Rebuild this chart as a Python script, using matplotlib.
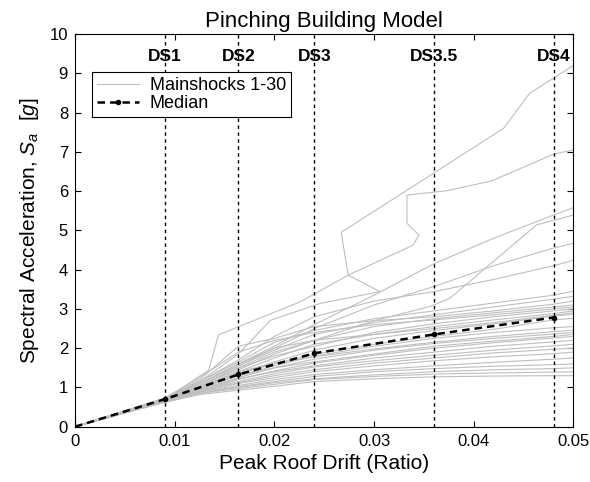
import numpy as np
import matplotlib
matplotlib.use("Agg")
import matplotlib.pyplot as plt

plt.rcParams['font.family'] = ['Liberation Sans', 'DejaVu Sans']
plt.rcParams['mathtext.fontset'] = 'custom'
plt.rcParams['mathtext.rm'] = 'Liberation Sans'
plt.rcParams['mathtext.it'] = 'Liberation Sans:italic'

# damage state drift limits
ds_names = ['DS1', 'DS2', 'DS3', 'DS3.5', 'DS4']
ds_drift = [0.009, 0.0164, 0.024, 0.036, 0.048]

# median Sa at each damage state (origin first)
median_drift = [0.0] + ds_drift
median_sa = [0.0, 0.70, 1.33, 1.87, 2.35, 2.78]

# common drift grid for most of the mainshock curves
grid = [0, 0.009, 0.0125, 0.0164, 0.020, 0.024, 0.030, 0.036, 0.042, 0.048, 0.050]
band_sa = [
    [0, .72, 1.15, 1.65, 2.15, 2.45, 2.75, 2.95, 3.15, 3.35, 3.45],
    [0, .70, 1.10, 1.55, 1.95, 2.35, 2.65, 2.85, 3.05, 3.25, 3.32],
    [0, .71, 1.20, 2.05, 2.25, 2.55, 2.70, 2.80, 2.95, 3.12, 3.20],
    [0, .69, 1.05, 1.45, 1.85, 2.20, 2.55, 2.75, 2.90, 3.05, 3.10],
    [0, .73, 1.25, 1.90, 2.20, 2.40, 2.60, 2.72, 2.85, 3.00, 3.05],
    [0, .70, 1.05, 1.50, 1.80, 2.05, 2.40, 2.62, 2.80, 2.95, 3.00],
    [0, .68, 1.00, 1.40, 1.75, 2.10, 2.35, 2.55, 2.72, 2.88, 2.95],
    [0, .71, 1.10, 1.60, 2.00, 2.20, 2.35, 2.50, 2.65, 2.84, 2.90],
    [0, .69, 1.02, 1.35, 1.65, 1.95, 2.25, 2.45, 2.62, 2.82, 2.86],
    [0, .70, 1.00, 1.35, 1.60, 1.85, 2.10, 2.30, 2.48, 2.72, 2.76],
    [0, .68, .98, 1.30, 1.55, 1.80, 2.05, 2.25, 2.40, 2.52, 2.55],
    [0, .70, 1.02, 1.40, 1.62, 1.78, 1.98, 2.15, 2.30, 2.42, 2.46],
    [0, .67, .95, 1.25, 1.50, 1.72, 1.95, 2.12, 2.25, 2.36, 2.40],
    [0, .69, 1.00, 1.30, 1.50, 1.65, 1.85, 2.05, 2.18, 2.30, 2.35],
    [0, .66, .92, 1.20, 1.42, 1.62, 1.82, 2.00, 2.14, 2.26, 2.30],
    [0, .68, .95, 1.22, 1.40, 1.55, 1.75, 1.90, 2.05, 2.16, 2.20],
    [0, .67, .93, 1.15, 1.35, 1.52, 1.68, 1.82, 1.95, 2.06, 2.10],
    [0, .65, .90, 1.12, 1.30, 1.45, 1.62, 1.75, 1.88, 1.97, 2.00],
    [0, .66, .90, 1.10, 1.25, 1.40, 1.55, 1.68, 1.78, 1.86, 1.90],
    [0, .64, .88, 1.05, 1.20, 1.33, 1.45, 1.55, 1.64, 1.72, 1.75],
    [0, .65, .88, 1.02, 1.15, 1.28, 1.40, 1.48, 1.54, 1.58, 1.60],
    [0, .63, .85, 1.00, 1.12, 1.22, 1.32, 1.40, 1.45, 1.48, 1.50],
    [0, .64, .85, .97, 1.08, 1.20, 1.28, 1.34, 1.37, 1.39, 1.40],
    [0, .62, .82, .93, 1.03, 1.15, 1.22, 1.27, 1.29, 1.30, 1.30],
    [0, .70, 1.10, 1.55, 2.00, 2.50, 3.10, 3.57, 4.10, 4.55, 4.67],
    [0, .71, 1.15, 1.70, 2.30, 2.80, 3.20, 3.44, 3.75, 4.10, 4.24],
    [0, .70, 1.10, 1.60, 2.05, 2.60, 3.35, 4.15, 4.80, 5.39, 5.58],
]

# curves with their own drift points
drift_a = [0, 0.009, 0.0134, 0.0144, 0.0226, 0.0274, 0.0267, 0.0430, 0.0456, 0.0500]
sa_a = [0, 0.70, 1.44, 2.34, 3.18, 3.86, 4.95, 7.60, 8.49, 9.20]

drift_b = [0, 0.009, 0.0125, 0.0164, 0.0196, 0.0246, 0.0306, 0.0274, 0.0339, 0.0345,
           0.0333, 0.0333, 0.0359, 0.0373, 0.0418, 0.0480, 0.0500]
sa_b = [0, 0.72, 1.15, 1.85, 2.71, 3.14, 3.44, 3.86, 4.62, 4.88,
        5.18, 5.90, 5.97, 6.01, 6.26, 6.94, 7.05]

drift_c = [0, 0.009, 0.0125, 0.0164, 0.020, 0.024, 0.030, 0.0356, 0.0376, 0.0463, 0.050]
sa_c = [0, 0.68, 1.05, 1.50, 1.90, 2.20, 2.70, 3.06, 3.27, 5.14, 5.39]

gray = '#bfbfbf'

fig = plt.figure(figsize=(5.9, 4.82), dpi=100)
ax = fig.add_axes([0.1271, 0.1147, 0.8449, 0.8147])

for sa in band_sa:
    ax.plot(grid, sa, color=gray, lw=0.8)
for d, s in [(drift_a, sa_a), (drift_b, sa_b), (drift_c, sa_c)]:
    ax.plot(d, s, color=gray, lw=0.8)

# legend proxy for the gray curves
ax.plot([], [], color=gray, lw=0.8, label='Mainshocks 1-30')
ax.plot(median_drift, median_sa, color='black', lw=1.8, ls=(0, (3, 2)),
        marker='.', ms=6, label='Median', zorder=5)

for name, d in zip(ds_names, ds_drift):
    ax.axvline(d, color='black', lw=1.0, ls=(0, (2.5, 2.5)), zorder=4)
    ax.text(d, 9.42, name, ha='center', va='center', fontsize=12.5,
            fontweight='bold', zorder=6)

ax.set_xlim(0, 0.05)
ax.set_ylim(0, 10)
ax.set_xticks([0, 0.01, 0.02, 0.03, 0.04, 0.05])
ax.set_xticklabels(['0', '0.01', '0.02', '0.03', '0.04', '0.05'])
ax.set_yticks(range(0, 11))
ax.tick_params(direction='in', top=True, right=True, length=4, width=0.8,
               labelsize=12, pad=5)
for sp in ax.spines.values():
    sp.set_linewidth(0.8)

ax.set_xlabel('Peak Roof Drift (Ratio)', fontsize=15, labelpad=4)
ax.set_ylabel(r'Spectral Acceleration, $S_a$  [$g$]', fontsize=15, labelpad=6)
ax.set_title('Pinching Building Model', fontsize=16, pad=5)

leg = ax.legend(loc='upper left', bbox_to_anchor=(0.034, 0.904), borderaxespad=0,
                fontsize=13, fancybox=False, framealpha=1, edgecolor='black',
                handlelength=2.3, handletextpad=0.6, labelspacing=0.05,
                borderpad=0.3)
leg.get_frame().set_linewidth(0.8)

fig.savefig('out.png', dpi=100)
